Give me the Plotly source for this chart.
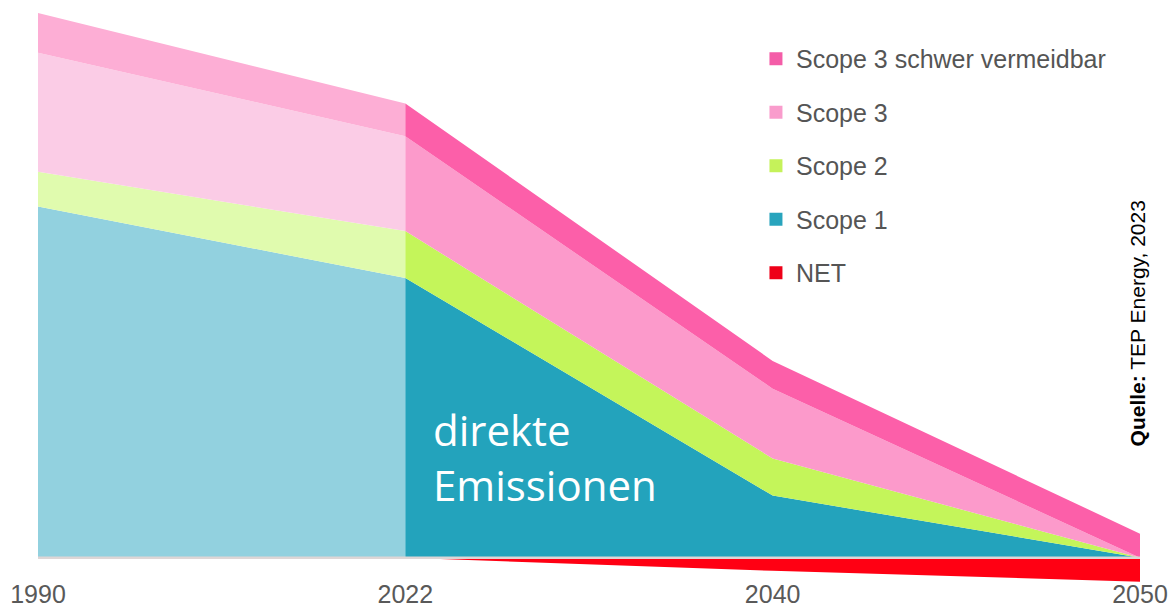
import plotly.graph_objects as go

# categories (evenly spaced on the chart)
years = ["1990", "2022", "2040", "2050"]
hist_pos = [0, 1]
proj_pos = [1, 2, 3]

# historical part 1990-2022 (faded)
hist_scope1 = [64.4, 51.3]
hist_scope2 = [6.4, 8.6]
hist_scope3 = [21.8, 17.4]
hist_scope3_hard = [7.3, 6.0]

# pathway 2022-2050
proj_scope1 = [51.3, 11.4, 0.0]
proj_scope2 = [8.6, 6.8, 0.0]
proj_scope3 = [17.4, 12.8, 0.0]
proj_scope3_hard = [6.0, 5.1, 4.4]
net = [0.0, -2.4, -4.4]

names = ["Scope 1", "Scope 2", "Scope 3", "Scope 3 schwer vermeidbar"]
colors = ["#23a3bc", "#c4f55a", "#fc9acb", "#fc5fa9"]
faded = ["#92d1df", "#e0fbae", "#fbcce6", "#fdaed5"]
net_color = "#ff0013"

fig = go.Figure()

hist = [hist_scope1, hist_scope2, hist_scope3, hist_scope3_hard]
proj = [proj_scope1, proj_scope2, proj_scope3, proj_scope3_hard]

for vals, c in zip(hist, faded):
    fig.add_scatter(x=hist_pos, y=vals, stackgroup="hist", mode="none",
                    fillcolor=c, showlegend=False, hoverinfo="skip")

for vals, c, n in zip(proj, colors, names):
    fig.add_scatter(x=proj_pos, y=vals, stackgroup="proj", mode="none",
                    fillcolor=c, name=n, showlegend=False)

fig.add_scatter(x=proj_pos, y=net, fill="tozeroy", mode="none",
                fillcolor=net_color, name="NET", showlegend=False)

# legend entries (small squares)
legend_items = [("Scope 3 schwer vermeidbar", "#f45da8"), ("Scope 3", "#f99ccc"),
                ("Scope 2", "#c5f25a"), ("Scope 1", "#28a4bd"), ("NET", "#ee0018")]
for i, (n, c) in enumerate(legend_items):
    fig.add_scatter(x=[None], y=[None], mode="markers", name=n, legendgroup=str(i),
                    marker=dict(symbol="square", size=13, color=c))

fig.add_hline(y=0, line_color="#ddd6d6", line_width=2.5, layer="above")

fig.add_annotation(text="direkte<br>Emissionen", xref="paper", yref="y",
                   x=0.357, y=18.5, xanchor="left", yanchor="middle", align="left",
                   showarrow=False, font=dict(family="Open Sans", size=42, color="white"))

fig.add_annotation(text="<b>Quelle:</b> TEP Energy, 2023", xref="paper", yref="paper",
                   x=0.9973, y=0.455, xanchor="center", yanchor="middle",
                   textangle=-90, showarrow=False,
                   font=dict(family="Liberation Sans", size=21, color="black"))

fig.update_layout(
    width=1168,
    height=610,
    margin=dict(l=38, r=28, t=10, b=25, autoexpand=False),
    plot_bgcolor="white",
    paper_bgcolor="white",
    legend=dict(
        x=0.6515, y=0.9548, xanchor="left", yanchor="top",
        traceorder="grouped", tracegroupgap=18,
        font=dict(family="Liberation Sans", size=25, color="#555555"),
        bgcolor="rgba(0,0,0,0)",
    ),
)

fig.update_xaxes(
    range=[0, 3],
    tickvals=[0, 1, 2, 3],
    ticktext=years,
    showgrid=False,
    zeroline=False,
    showline=False,
    ticks="",
    ticklabelstandoff=-8,
    ticklabeloverflow="allow",
    automargin=False,
    tickfont=dict(family="Liberation Sans", size=25, color="#595959"),
)
fig.update_yaxes(
    range=[-5, 100.45],
    visible=False,
    showgrid=False,
    zeroline=False,
)

# drop the default 8px body margin so the figure fills the window exactly
fig.write_html("out.html", config={"displayModeBar": False},
               post_script="document.body.style.margin='0';")
